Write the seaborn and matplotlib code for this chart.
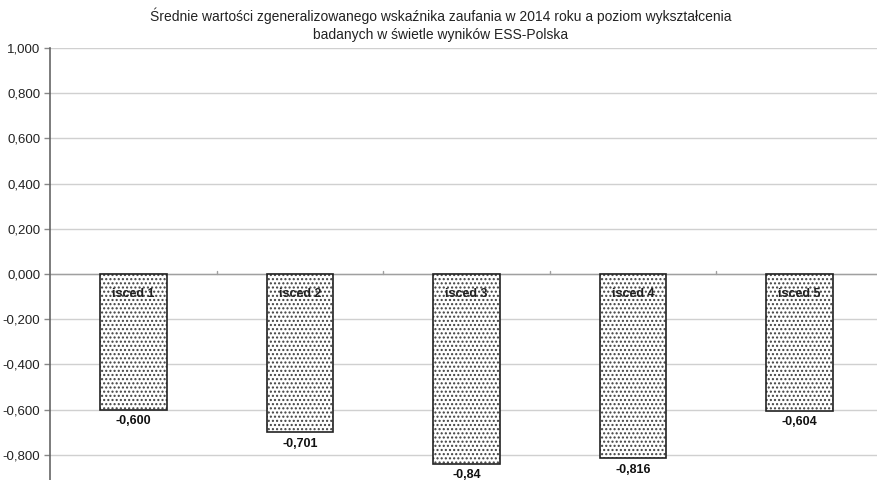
import matplotlib
matplotlib.use("Agg")
import matplotlib.pyplot as plt
import seaborn as sns
import pandas as pd
from matplotlib.ticker import FuncFormatter

categories = ["isced 1", "isced 2", "isced 3", "isced 4", "isced 5"]
values = [-0.600, -0.701, -0.84, -0.816, -0.604]
value_labels = ["-0,600", "-0,701", "-0,84", "-0,816", "-0,604"]
yticks = [1.0, 0.8, 0.6, 0.4, 0.2, 0.0, -0.2, -0.4, -0.6, -0.8]
title = ("Średnie wartości zgeneralizowanego wskaźnika zaufania w 2014 roku a poziom wykształcenia\n"
         "badanych w świetle wyników ESS-Polska")

sns.set_theme(style="white")
plt.rcParams['font.family'] = ['Liberation Sans', 'DejaVu Sans']

df = pd.DataFrame({"cat": categories, "val": values})

fig = plt.figure(figsize=(8.77, 4.8), dpi=100)
ax = fig.add_axes([50/877, -20/480, 833/877, 452/480])

plt.rcParams['hatch.linewidth'] = 1.0
sns.barplot(data=df, x="cat", y="val", ax=ax, width=0.4, color="white",
            edgecolor="#404040", linewidth=0, hatch="....", zorder=2)
sns.barplot(data=df, x="cat", y="val", ax=ax, width=0.4, fill=False,
            edgecolor="#222222", linewidth=1.2, zorder=3)

ax.set_xlim(-0.5, len(categories) - 0.5)
ax.set_ylim(-1.0, 1.0)
ax.set_yticks(yticks)
ax.yaxis.set_major_formatter(FuncFormatter(lambda v, p: f"{v:.3f}".replace(".", ",").replace("-0,000", "0,000")))
ax.tick_params(axis='y', labelsize=9.5, labelcolor="#222222", color="#888888",
               length=4, width=1, pad=3, left=True)
ax.set_xticks([])
ax.set_xlabel("")
ax.set_ylabel("")
ax.grid(axis='y', color="#d0d0d0", linewidth=1.0, zorder=0)
ax.set_axisbelow(True)
for s in ["top", "right", "bottom"]:
    ax.spines[s].set_visible(False)
ax.spines["left"].set_color("#666666")
ax.spines["left"].set_linewidth(1.2)

ax.axhline(0, color="#a0a0a0", linewidth=1.0, zorder=1)
for i in range(1, len(categories)):
    ax.plot([i - 0.5, i - 0.5], [0, 0.012], color="#a0a0a0", linewidth=1.0, zorder=1)

for i, (c, v, lab) in enumerate(zip(categories, values, value_labels)):
    ax.annotate(c, (i, 0), xytext=(0, -10), textcoords="offset points",
                ha="center", va="top", fontsize=9, fontweight="bold", color="#222222", zorder=4)
    ax.annotate(lab, (i, v), xytext=(0, -4), textcoords="offset points",
                ha="center", va="top", fontsize=9, fontweight="bold", color="#111111", zorder=4)

fig.text(0.502, 0.985, title, ha="center", va="top", fontsize=10, color="#222222", linespacing=1.35)

fig.savefig("out.png", dpi=100)
